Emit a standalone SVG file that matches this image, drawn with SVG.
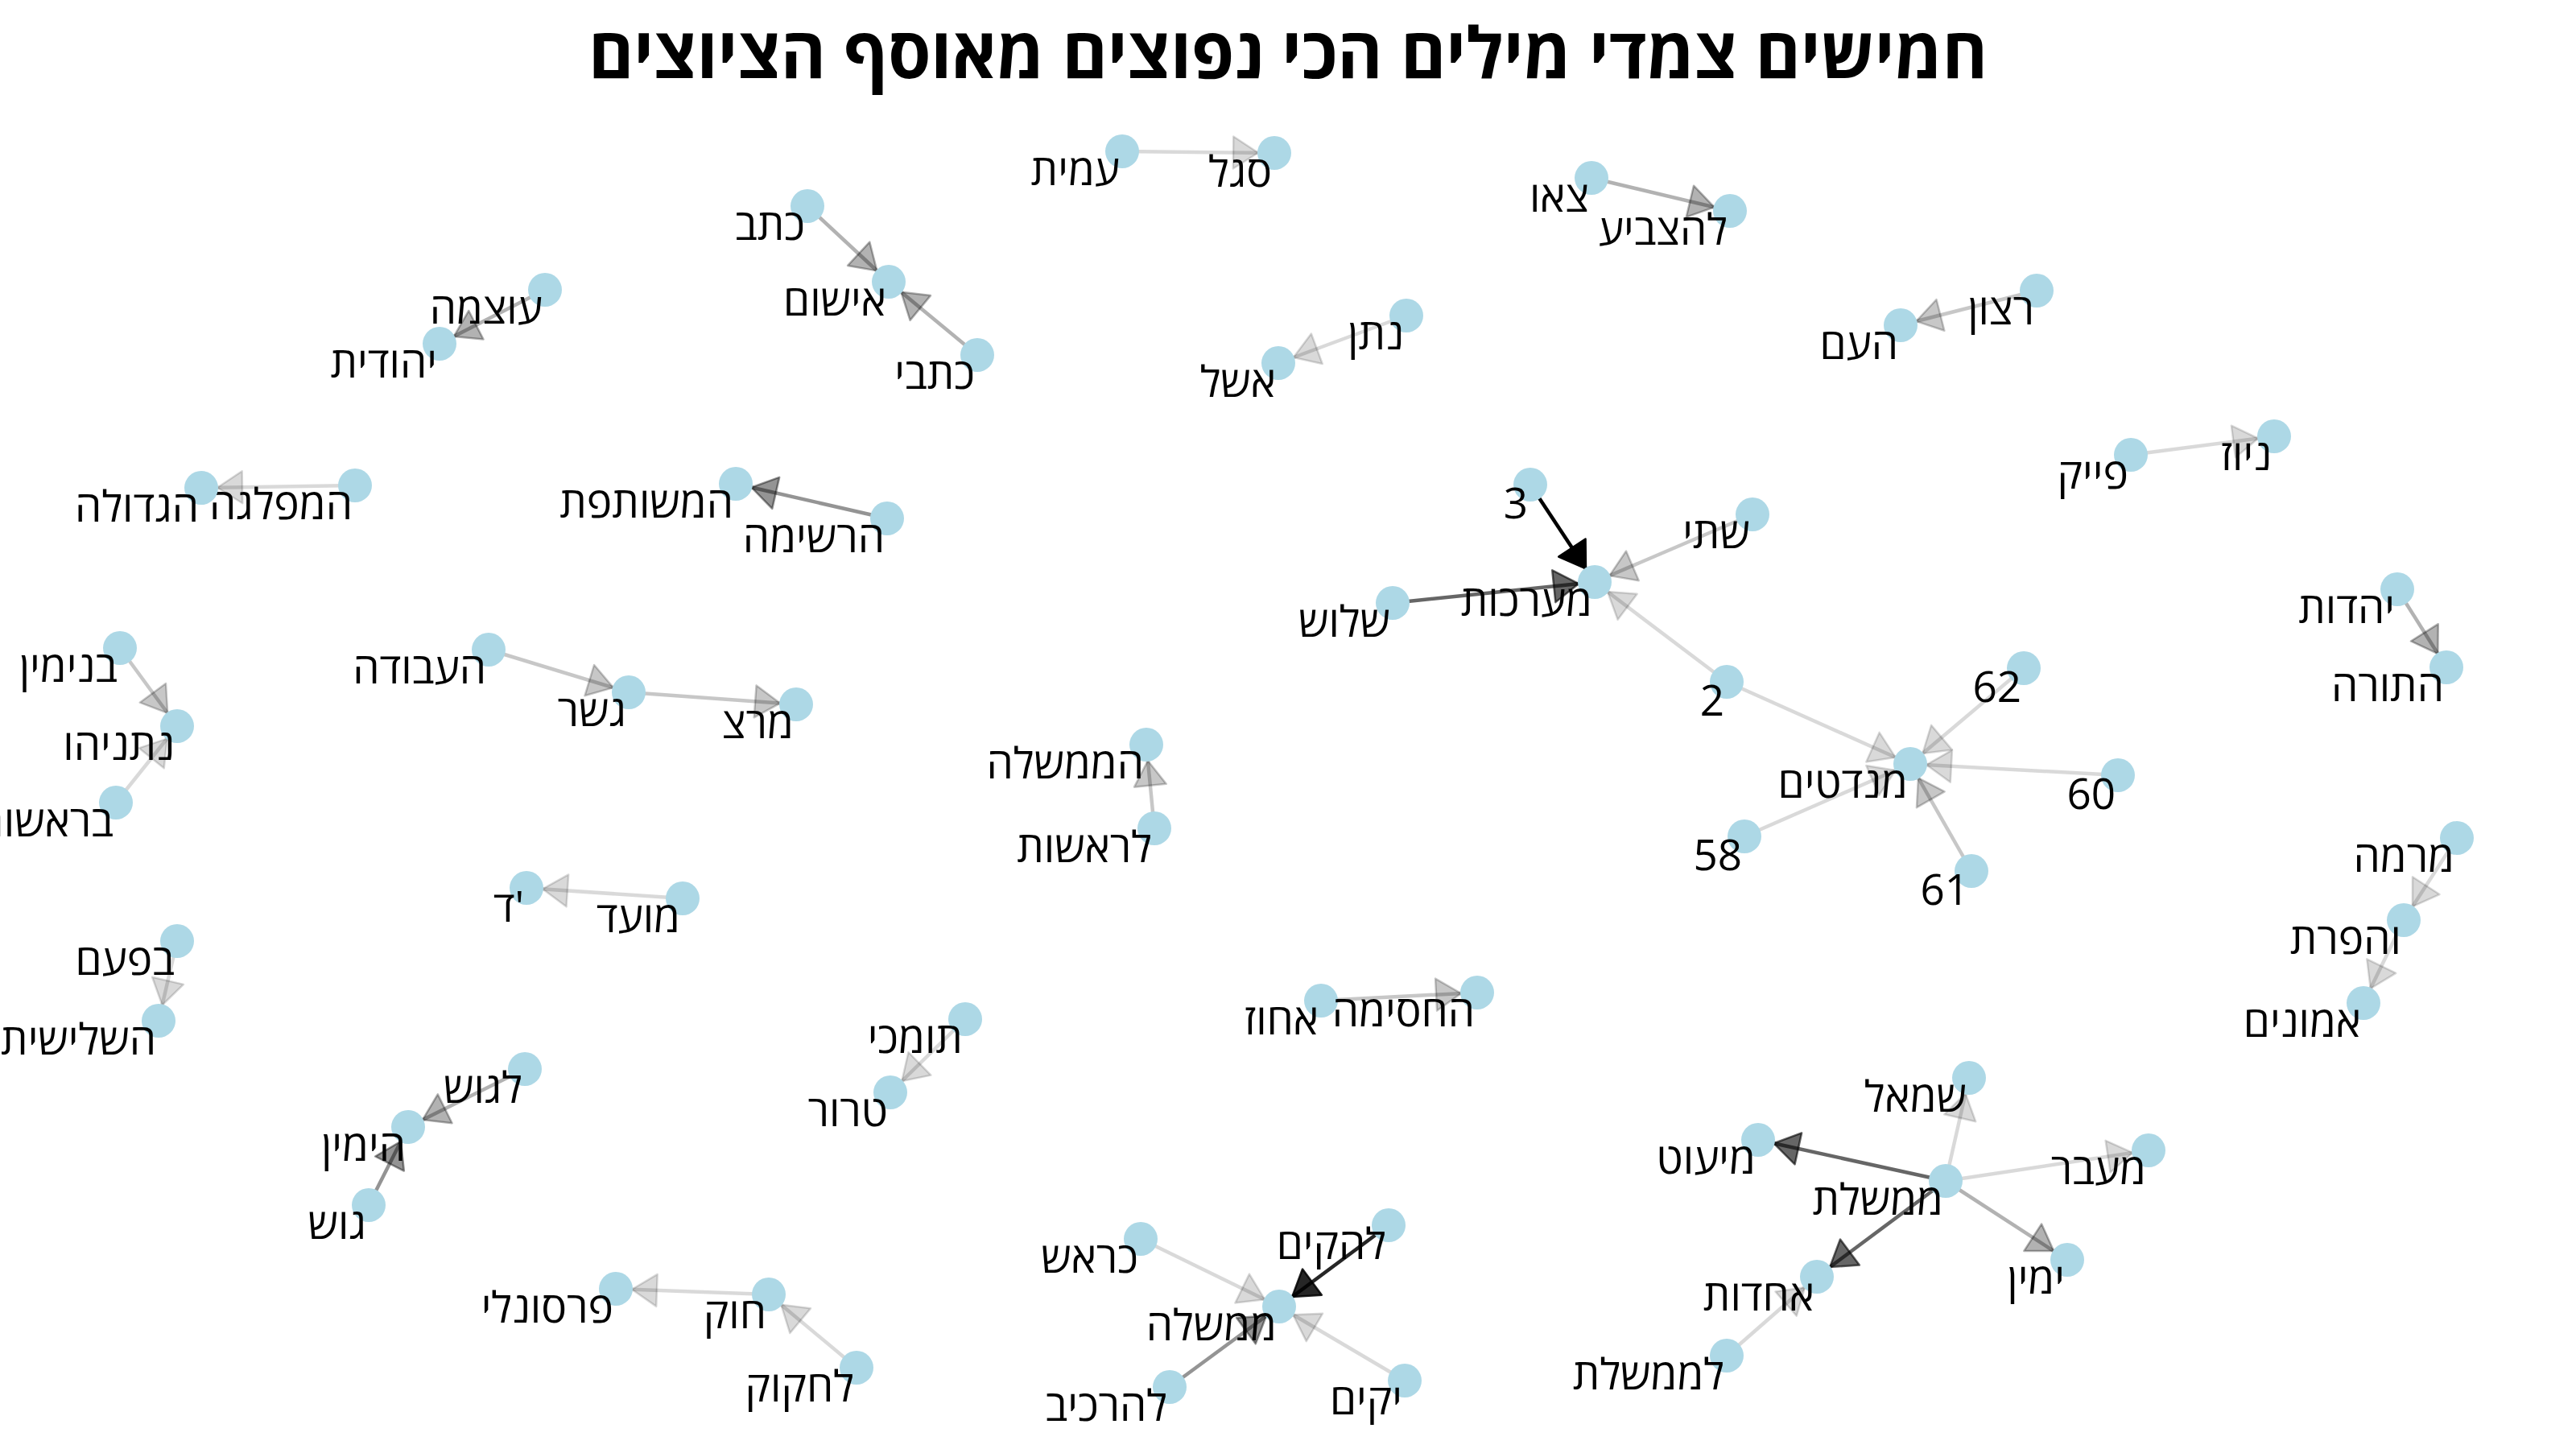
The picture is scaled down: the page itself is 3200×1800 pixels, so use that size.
<svg xmlns="http://www.w3.org/2000/svg" width="3200" height="1800" viewBox="0 0 3200 1800">
<style>
  .bg{fill:#ffffff}
  .title{font-family:"Open Sans","Noto Sans","DejaVu Sans",sans-serif;font-weight:bold;font-size:88px;fill:#000;text-anchor:middle}
  .node circle{fill:#ADD8E6}
  .node text{font-family:"Open Sans","Noto Sans","DejaVu Sans",sans-serif;font-size:53px;fill:#000;text-anchor:end}
  .e{stroke:#000;stroke-width:4.5;fill:none}
  .o1{stroke-opacity:0.15}.o2{stroke-opacity:0.22}.o3{stroke-opacity:0.3}.o4{stroke-opacity:0.42}.o5{stroke-opacity:0.6}.o6{stroke-opacity:0.85}.o7{stroke-opacity:1}
</style>
<defs>
  <marker id="m1" markerUnits="userSpaceOnUse" markerWidth="70" markerHeight="50" viewBox="-60 -25 70 50" refX="0" refY="0" orient="auto" overflow="visible"><path d="M-20,0 L-51,-20 L-51,20 Z" fill="#000" fill-opacity="0.15" stroke="#000" stroke-opacity="0.15" stroke-width="2.5" stroke-linejoin="round"/></marker>
  <marker id="m2" markerUnits="userSpaceOnUse" markerWidth="70" markerHeight="50" viewBox="-60 -25 70 50" refX="0" refY="0" orient="auto" overflow="visible"><path d="M-20,0 L-51,-20 L-51,20 Z" fill="#000" fill-opacity="0.22" stroke="#000" stroke-opacity="0.22" stroke-width="2.5" stroke-linejoin="round"/></marker>
  <marker id="m3" markerUnits="userSpaceOnUse" markerWidth="70" markerHeight="50" viewBox="-60 -25 70 50" refX="0" refY="0" orient="auto" overflow="visible"><path d="M-20,0 L-51,-20 L-51,20 Z" fill="#000" fill-opacity="0.3" stroke="#000" stroke-opacity="0.3" stroke-width="2.5" stroke-linejoin="round"/></marker>
  <marker id="m4" markerUnits="userSpaceOnUse" markerWidth="70" markerHeight="50" viewBox="-60 -25 70 50" refX="0" refY="0" orient="auto" overflow="visible"><path d="M-20,0 L-51,-20 L-51,20 Z" fill="#000" fill-opacity="0.42" stroke="#000" stroke-opacity="0.42" stroke-width="2.5" stroke-linejoin="round"/></marker>
  <marker id="m5" markerUnits="userSpaceOnUse" markerWidth="70" markerHeight="50" viewBox="-60 -25 70 50" refX="0" refY="0" orient="auto" overflow="visible"><path d="M-20,0 L-51,-20 L-51,20 Z" fill="#000" fill-opacity="0.6" stroke="#000" stroke-opacity="0.6" stroke-width="2.5" stroke-linejoin="round"/></marker>
  <marker id="m6" markerUnits="userSpaceOnUse" markerWidth="70" markerHeight="50" viewBox="-60 -25 70 50" refX="0" refY="0" orient="auto" overflow="visible"><path d="M-20,0 L-51,-20 L-51,20 Z" fill="#000" fill-opacity="0.85" stroke="#000" stroke-opacity="0.85" stroke-width="2.5" stroke-linejoin="round"/></marker>
  <marker id="m7" markerUnits="userSpaceOnUse" markerWidth="70" markerHeight="50" viewBox="-60 -25 70 50" refX="0" refY="0" orient="auto" overflow="visible"><path d="M-20,0 L-51,-20 L-51,20 Z" fill="#000" stroke="#000" stroke-width="2.5" stroke-linejoin="round"/></marker>
</defs>
<rect class="bg" x="0" y="0" width="3200" height="1800"/>
<text class="title" x="1600" y="97" textLength="1738" lengthAdjust="spacingAndGlyphs">חמישים צמדי מילים הכי נפוצים מאוסף הציוצים</text>
<g id="edges">
  <line class="e o1" x1="1394" y1="188" x2="1583" y2="190" marker-end="url(#m1)"/>
  <line class="e o3" x1="1977" y1="221" x2="2149" y2="262" marker-end="url(#m3)"/>
  <line class="e o3" x1="1003" y1="256" x2="1104" y2="350" marker-end="url(#m3)"/>
  <line class="e o3" x1="1214" y1="441" x2="1104" y2="350" marker-end="url(#m3)"/>
  <line class="e o3" x1="677" y1="360" x2="546" y2="427" marker-end="url(#m3)"/>
  <line class="e o1" x1="1747" y1="392" x2="1588" y2="451" marker-end="url(#m1)"/>
  <line class="e o2" x1="2530" y1="361" x2="2361" y2="404" marker-end="url(#m2)"/>
  <line class="e o1" x1="2647" y1="565" x2="2825" y2="542" marker-end="url(#m1)"/>
  <line class="e o1" x1="441" y1="603" x2="250" y2="606" marker-end="url(#m1)"/>
  <line class="e o4" x1="1102" y1="644" x2="914" y2="601" marker-end="url(#m4)"/>
  <line class="e o7" x1="1901" y1="602" x2="1981" y2="723" marker-end="url(#m7)"/>
  <line class="e o5" x1="1730" y1="749" x2="1981" y2="723" marker-end="url(#m5)"/>
  <line class="e o2" x1="2177" y1="639" x2="1981" y2="723" marker-end="url(#m2)"/>
  <line class="e o1" x1="2145" y1="847" x2="1981" y2="723" marker-end="url(#m1)"/>
  <line class="e o1" x1="2145" y1="847" x2="2373" y2="949" marker-end="url(#m1)"/>
  <line class="e o1" x1="2514" y1="830" x2="2373" y2="949" marker-end="url(#m1)"/>
  <line class="e o1" x1="2631" y1="963" x2="2373" y2="949" marker-end="url(#m1)"/>
  <line class="e o1" x1="2167" y1="1039" x2="2373" y2="949" marker-end="url(#m1)"/>
  <line class="e o2" x1="2449" y1="1082" x2="2373" y2="949" marker-end="url(#m2)"/>
  <line class="e o3" x1="2978" y1="732" x2="3039" y2="829" marker-end="url(#m3)"/>
  <line class="e o2" x1="149" y1="805" x2="220" y2="902" marker-end="url(#m2)"/>
  <line class="e o1" x1="144" y1="997" x2="220" y2="902" marker-end="url(#m1)"/>
  <line class="e o2" x1="607" y1="807" x2="781" y2="860" marker-end="url(#m2)"/>
  <line class="e o2" x1="781" y1="860" x2="989" y2="875" marker-end="url(#m2)"/>
  <line class="e o2" x1="1434" y1="1029" x2="1424" y2="925" marker-end="url(#m2)"/>
  <line class="e o1" x1="848" y1="1116" x2="654" y2="1103" marker-end="url(#m1)"/>
  <line class="e o1" x1="220" y1="1169" x2="197" y2="1268" marker-end="url(#m1)"/>
  <line class="e o1" x1="1199" y1="1266" x2="1106" y2="1357" marker-end="url(#m1)"/>
  <line class="e o2" x1="1641" y1="1243" x2="1835" y2="1233" marker-end="url(#m2)"/>
  <line class="e o3" x1="652" y1="1328" x2="507" y2="1400" marker-end="url(#m3)"/>
  <line class="e o4" x1="458" y1="1497" x2="507" y2="1400" marker-end="url(#m4)"/>
  <line class="e o1" x1="955" y1="1608" x2="765" y2="1601" marker-end="url(#m1)"/>
  <line class="e o1" x1="1064" y1="1699" x2="955" y2="1608" marker-end="url(#m1)"/>
  <line class="e o1" x1="1417" y1="1539" x2="1589" y2="1623" marker-end="url(#m1)"/>
  <line class="e o6" x1="1725" y1="1522" x2="1589" y2="1623" marker-end="url(#m6)"/>
  <line class="e o4" x1="1453" y1="1723" x2="1589" y2="1623" marker-end="url(#m4)"/>
  <line class="e o1" x1="1745" y1="1715" x2="1589" y2="1623" marker-end="url(#m1)"/>
  <line class="e o1" x1="2417" y1="1467" x2="2446" y2="1339" marker-end="url(#m1)"/>
  <line class="e o5" x1="2417" y1="1467" x2="2184" y2="1416" marker-end="url(#m5)"/>
  <line class="e o1" x1="2417" y1="1467" x2="2669" y2="1429" marker-end="url(#m1)"/>
  <line class="e o3" x1="2417" y1="1467" x2="2568" y2="1565" marker-end="url(#m3)"/>
  <line class="e o5" x1="2417" y1="1467" x2="2257" y2="1586" marker-end="url(#m5)"/>
  <line class="e o1" x1="2145" y1="1684" x2="2257" y2="1586" marker-end="url(#m1)"/>
  <line class="e o1" x1="3052" y1="1041" x2="2986" y2="1143" marker-end="url(#m1)"/>
  <line class="e o1" x1="2986" y1="1143" x2="2936" y2="1246" marker-end="url(#m1)"/>
</g>
<g id="n1" class="node"><circle cx="1394" cy="188" r="21"/><text x="1391" y="230">עמית</text></g>
<g id="n2" class="node"><circle cx="1583" cy="190" r="21"/><text x="1580" y="232">סגל</text></g>
<g id="n3" class="node"><circle cx="1977" cy="221" r="21"/><text x="1974" y="263">צאו</text></g>
<g id="n4" class="node"><circle cx="2149" cy="262" r="21"/><text x="2146" y="304">להצביע</text></g>
<g id="n5" class="node"><circle cx="1003" cy="256" r="21"/><text x="1000" y="298">כתב</text></g>
<g id="n6" class="node"><circle cx="1104" cy="350" r="21"/><text x="1101" y="392">אישום</text></g>
<g id="n7" class="node"><circle cx="1214" cy="441" r="21"/><text x="1211" y="483">כתבי</text></g>
<g id="n8" class="node"><circle cx="677" cy="360" r="21"/><text x="674" y="402">עוצמה</text></g>
<g id="n9" class="node"><circle cx="546" cy="427" r="21"/><text x="543" y="469">יהודית</text></g>
<g id="n10" class="node"><circle cx="1747" cy="392" r="21"/><text x="1744" y="434">נתן</text></g>
<g id="n11" class="node"><circle cx="1588" cy="451" r="21"/><text x="1585" y="493">אשל</text></g>
<g id="n12" class="node"><circle cx="2530" cy="361" r="21"/><text x="2527" y="403">רצון</text></g>
<g id="n13" class="node"><circle cx="2361" cy="404" r="21"/><text x="2358" y="446">העם</text></g>
<g id="n14" class="node"><circle cx="2825" cy="542" r="21"/><text x="2822" y="584">ניוז</text></g>
<g id="n15" class="node"><circle cx="2647" cy="565" r="21"/><text x="2644" y="607">פייק</text></g>
<g id="n16" class="node"><circle cx="441" cy="603" r="21"/><text x="438" y="645">המפלגה</text></g>
<g id="n17" class="node"><circle cx="250" cy="606" r="21"/><text x="247" y="648">הגדולה</text></g>
<g id="n18" class="node"><circle cx="1102" cy="644" r="21"/><text x="1099" y="686">הרשימה</text></g>
<g id="n19" class="node"><circle cx="914" cy="601" r="21"/><text x="911" y="643">המשותפת</text></g>
<g id="n20" class="node"><circle cx="1901" cy="602" r="21"/><text x="1898" y="644">3</text></g>
<g id="n21" class="node"><circle cx="2177" cy="639" r="21"/><text x="2174" y="681">שתי</text></g>
<g id="n22" class="node"><circle cx="1981" cy="723" r="21"/><text x="1978" y="765">מערכות</text></g>
<g id="n23" class="node"><circle cx="1730" cy="749" r="21"/><text x="1727" y="791">שלוש</text></g>
<g id="n24" class="node"><circle cx="2145" cy="847" r="21"/><text x="2142" y="889">2</text></g>
<g id="n25" class="node"><circle cx="2373" cy="949" r="21"/><text x="2370" y="991">מנדטים</text></g>
<g id="n26" class="node"><circle cx="2514" cy="830" r="21"/><text x="2511" y="872">62</text></g>
<g id="n27" class="node"><circle cx="2631" cy="963" r="21"/><text x="2628" y="1005">60</text></g>
<g id="n28" class="node"><circle cx="2167" cy="1039" r="21"/><text x="2164" y="1081">58</text></g>
<g id="n29" class="node"><circle cx="2449" cy="1082" r="21"/><text x="2446" y="1124">61</text></g>
<g id="n30" class="node"><circle cx="2978" cy="732" r="21"/><text x="2975" y="774">יהדות</text></g>
<g id="n31" class="node"><circle cx="3039" cy="829" r="21"/><text x="3036" y="871">התורה</text></g>
<g id="n32" class="node"><circle cx="149" cy="805" r="21"/><text x="146" y="847">בנימין</text></g>
<g id="n33" class="node"><circle cx="220" cy="902" r="21"/><text x="217" y="944">נתניהו</text></g>
<g id="n34" class="node"><circle cx="144" cy="997" r="21"/><text x="141" y="1039">בראשות</text></g>
<g id="n35" class="node"><circle cx="607" cy="807" r="21"/><text x="604" y="849">העבודה</text></g>
<g id="n36" class="node"><circle cx="781" cy="860" r="21"/><text x="778" y="902">גשר</text></g>
<g id="n37" class="node"><circle cx="989" cy="875" r="21"/><text x="986" y="917">מרצ</text></g>
<g id="n38" class="node"><circle cx="654" cy="1103" r="21"/><text x="651" y="1145">ד'</text></g>
<g id="n39" class="node"><circle cx="848" cy="1116" r="21"/><text x="845" y="1158">מועד</text></g>
<g id="n40" class="node"><circle cx="220" cy="1169" r="21"/><text x="217" y="1211">בפעם</text></g>
<g id="n41" class="node"><circle cx="197" cy="1268" r="21"/><text x="194" y="1310">השלישית</text></g>
<g id="n42" class="node"><circle cx="1424" cy="925" r="21"/><text x="1421" y="967">הממשלה</text></g>
<g id="n43" class="node"><circle cx="1434" cy="1029" r="21"/><text x="1431" y="1071">לראשות</text></g>
<g id="n44" class="node"><circle cx="1641" cy="1243" r="21"/><text x="1638" y="1285">אחוז</text></g>
<g id="n45" class="node"><circle cx="1835" cy="1233" r="21"/><text x="1832" y="1275">החסימה</text></g>
<g id="n46" class="node"><circle cx="1199" cy="1266" r="21"/><text x="1196" y="1308">תומכי</text></g>
<g id="n47" class="node"><circle cx="1106" cy="1357" r="21"/><text x="1103" y="1399">טרור</text></g>
<g id="n48" class="node"><circle cx="652" cy="1328" r="21"/><text x="649" y="1370">לגוש</text></g>
<g id="n49" class="node"><circle cx="507" cy="1400" r="21"/><text x="504" y="1442">הימין</text></g>
<g id="n50" class="node"><circle cx="458" cy="1497" r="21"/><text x="455" y="1539">גוש</text></g>
<g id="n51" class="node"><circle cx="765" cy="1601" r="21"/><text x="762" y="1643">פרסונלי</text></g>
<g id="n52" class="node"><circle cx="955" cy="1608" r="21"/><text x="952" y="1650">חוק</text></g>
<g id="n53" class="node"><circle cx="1064" cy="1699" r="21"/><text x="1061" y="1741">לחקוק</text></g>
<g id="n54" class="node"><circle cx="1417" cy="1539" r="21"/><text x="1414" y="1581">כראש</text></g>
<g id="n55" class="node"><circle cx="1589" cy="1623" r="21"/><text x="1586" y="1665">ממשלה</text></g>
<g id="n56" class="node"><circle cx="1725" cy="1522" r="21"/><text x="1722" y="1564">להקים</text></g>
<g id="n57" class="node"><circle cx="1453" cy="1723" r="21"/><text x="1450" y="1765">להרכיב</text></g>
<g id="n58" class="node"><circle cx="1745" cy="1715" r="21"/><text x="1742" y="1757">יקים</text></g>
<g id="n59" class="node"><circle cx="2184" cy="1416" r="21"/><text x="2181" y="1458">מיעוט</text></g>
<g id="n60" class="node"><circle cx="2446" cy="1339" r="21"/><text x="2443" y="1381">שמאל</text></g>
<g id="n61" class="node"><circle cx="2417" cy="1467" r="21"/><text x="2414" y="1509">ממשלת</text></g>
<g id="n62" class="node"><circle cx="2669" cy="1429" r="21"/><text x="2666" y="1471">מעבר</text></g>
<g id="n63" class="node"><circle cx="2568" cy="1565" r="21"/><text x="2565" y="1607">ימין</text></g>
<g id="n64" class="node"><circle cx="2257" cy="1586" r="21"/><text x="2254" y="1628">אחדות</text></g>
<g id="n65" class="node"><circle cx="2145" cy="1684" r="21"/><text x="2142" y="1726">לממשלת</text></g>
<g id="n66" class="node"><circle cx="3052" cy="1041" r="21"/><text x="3049" y="1083">מרמה</text></g>
<g id="n67" class="node"><circle cx="2986" cy="1143" r="21"/><text x="2983" y="1185">והפרת</text></g>
<g id="n68" class="node"><circle cx="2936" cy="1246" r="21"/><text x="2933" y="1288">אמונים</text></g>
</svg>
